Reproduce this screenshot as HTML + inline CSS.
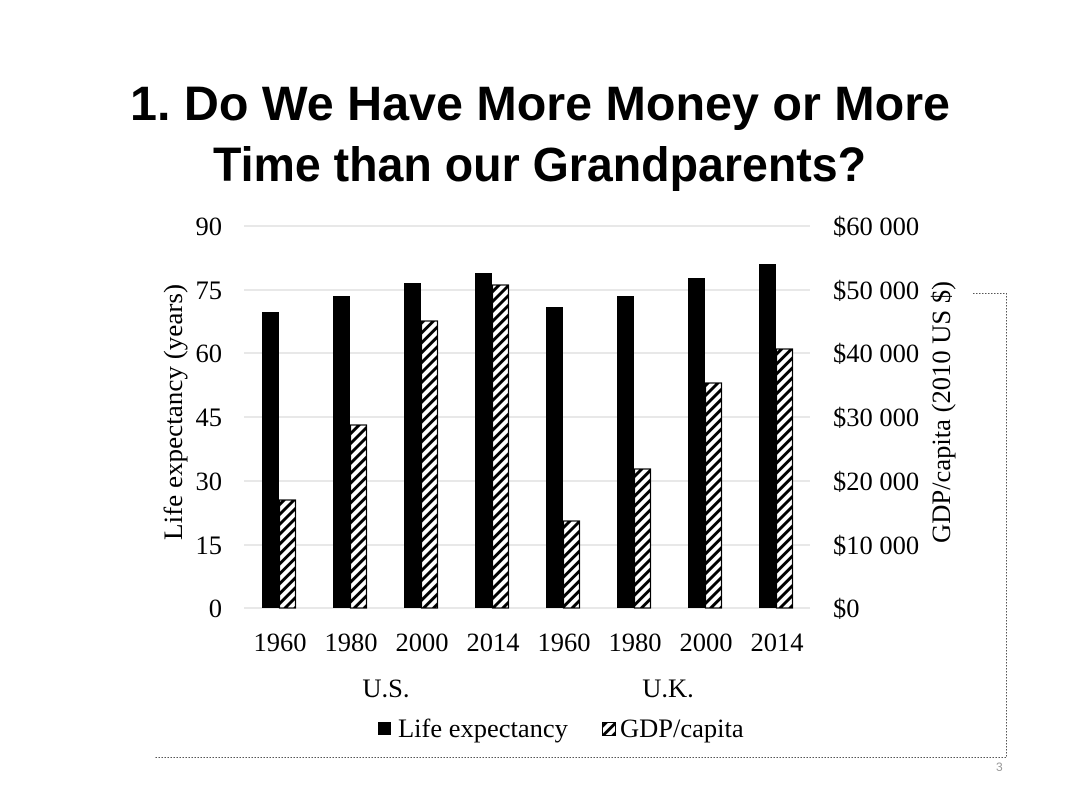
<!DOCTYPE html>
<html><head><meta charset="utf-8"><style>
html,body{margin:0;padding:0;background:#fff;}
svg{display:block;}
</style></head><body>
<svg width="1066" height="798" xmlns="http://www.w3.org/2000/svg">
<defs>
<pattern id="h" patternUnits="userSpaceOnUse" width="7" height="7" patternTransform="rotate(45)">
<rect width="7" height="7" fill="#fff"/>
<rect x="0" y="0" width="3" height="7" fill="#000"/>
</pattern>
</defs>
<g font-family="Liberation Sans, sans-serif" font-weight="bold" font-size="48" fill="#000">
<text x="130" y="120" textLength="820" lengthAdjust="spacingAndGlyphs">1. Do We Have More Money or More</text>
<text x="213" y="181" textLength="653" lengthAdjust="spacingAndGlyphs">Time than our Grandparents?</text>
</g>
<g stroke="#d9d9d9" stroke-width="1.3">
<line x1="244" x2="810" y1="226" y2="226"/>
<line x1="244" x2="810" y1="290" y2="290"/>
<line x1="244" x2="810" y1="353" y2="353"/>
<line x1="244" x2="810" y1="417" y2="417"/>
<line x1="244" x2="810" y1="481" y2="481"/>
<line x1="244" x2="810" y1="545" y2="545"/>
<line x1="244" x2="810" y1="608" y2="608"/>
</g>
<g fill="#000">
<rect x="262" y="312" width="17" height="296"/>
<rect x="333" y="296" width="17" height="312"/>
<rect x="404" y="283" width="17" height="325"/>
<rect x="475" y="273" width="17" height="335"/>
<rect x="546" y="307" width="17" height="301"/>
<rect x="617" y="296" width="17" height="312"/>
<rect x="688" y="278" width="17" height="330"/>
<rect x="759" y="264" width="17" height="344"/>
</g>
<g fill="url(#h)" stroke="#000" stroke-width="1.2">
<rect x="279.5" y="500" width="16" height="108"/>
<rect x="350.5" y="425" width="16" height="183"/>
<rect x="421.5" y="321" width="16" height="287"/>
<rect x="492.5" y="285" width="16" height="323"/>
<rect x="563.5" y="521" width="16" height="87"/>
<rect x="634.5" y="469" width="16" height="139"/>
<rect x="705.5" y="383" width="16" height="225"/>
<rect x="776.5" y="349" width="16" height="259"/>
</g>
<g font-family="Liberation Serif, serif" font-size="26.5" fill="#000">
<g text-anchor="end">
<text x="222" y="235">90</text><text x="222" y="299">75</text><text x="222" y="362">60</text>
<text x="222" y="426">45</text><text x="222" y="490">30</text><text x="222" y="554">15</text><text x="222" y="617">0</text>
</g>
<g>
<text x="833" y="235">$60 000</text><text x="833" y="299">$50 000</text><text x="833" y="362">$40 000</text>
<text x="833" y="426">$30 000</text><text x="833" y="490">$20 000</text><text x="833" y="554">$10 000</text><text x="833" y="617">$0</text>
</g>
<g text-anchor="middle">
<text x="280" y="651">1960</text><text x="351" y="651">1980</text><text x="422" y="651">2000</text><text x="493" y="651">2014</text>
<text x="564" y="651">1960</text><text x="635" y="651">1980</text><text x="706" y="651">2000</text><text x="777" y="651">2014</text>
<text x="386" y="697">U.S.</text><text x="668" y="697">U.K.</text>
</g>
<text transform="translate(182,540) rotate(-90)" textLength="256" lengthAdjust="spacingAndGlyphs">Life expectancy (years)</text>
<text transform="translate(950,543) rotate(-90)" textLength="262" lengthAdjust="spacingAndGlyphs">GDP/capita (2010 US $)</text>
<rect x="378" y="722" width="13" height="13" fill="#000"/>
<text x="398" y="737">Life expectancy</text>
<rect x="602.5" y="722.5" width="13" height="13" fill="url(#h)" stroke="#000" stroke-width="1"/>
<text x="620" y="737">GDP/capita</text>
</g>
<g stroke="#555" stroke-width="1" stroke-dasharray="1.5,1.5" fill="none">
<polyline points="973,293.5 1006.5,293.5 1006.5,757.5 155,757.5"/>
</g>
<text x="996" y="771" font-family="Liberation Sans, sans-serif" font-size="12" fill="#999">3</text>
</svg>
</body></html>
